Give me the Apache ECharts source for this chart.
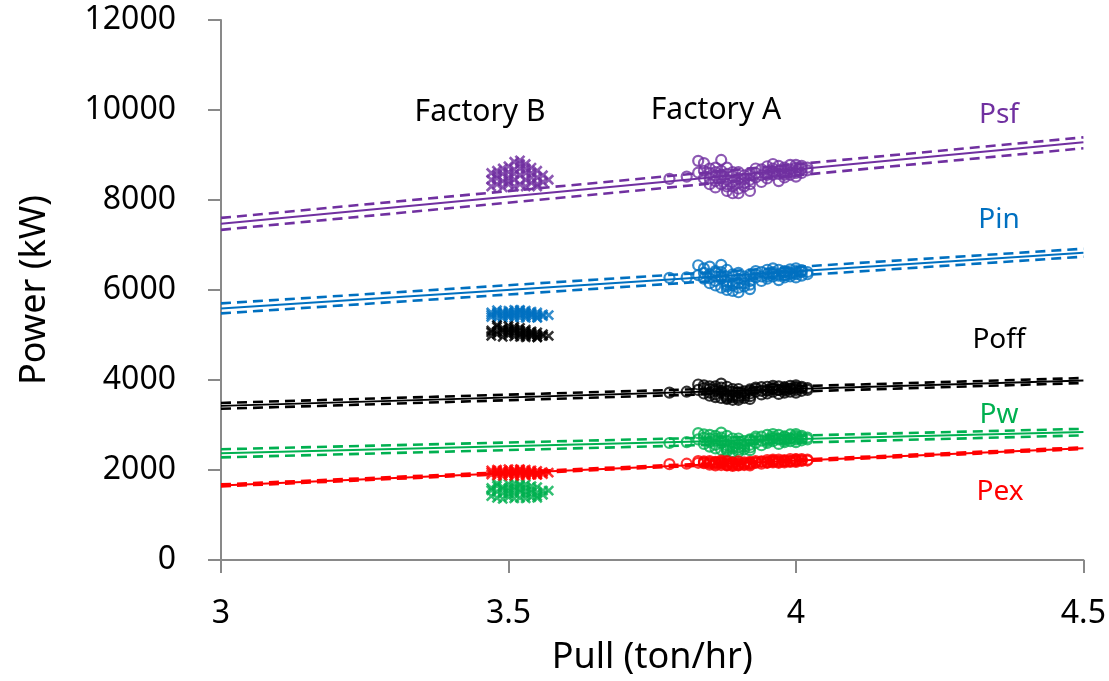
<!DOCTYPE html>
<html>
<head>
<meta charset="utf-8">
<title>Power vs Pull</title>
<script src="https://cdn.jsdelivr.net/npm/echarts@6/dist/echarts.min.js"></script>
<style>
  html, body { margin: 0; padding: 0; background: #fff; }
  #main { width: 1109px; height: 681px; }
</style>
</head>
<body>
<div id="main"></div>
<script>
// pull (ton/hr) of each sample, factory A (circles) and factory B (crosses)
const xA = [3.78, 3.81, 3.83, 3.83, 3.84, 3.84, 3.85, 3.85, 3.85, 3.86, 3.86, 3.86, 3.87, 3.87, 3.87, 3.87, 3.88, 3.88, 3.88, 3.88,
  3.89, 3.89, 3.89, 3.89, 3.90, 3.90, 3.90, 3.91, 3.91, 3.91, 3.92, 3.92, 3.93, 3.93, 3.94, 3.94, 3.95, 3.95, 3.95, 3.96,
  3.96, 3.96, 3.97, 3.97, 3.97, 3.98, 3.98, 3.98, 3.99, 3.99, 3.99, 4.00, 4.00, 4.00, 4.01, 4.01, 4.01, 4.02, 4.02, 3.92,
  3.84, 3.85, 3.86, 3.87, 3.88, 3.89, 3.90, 3.91, 3.92, 3.93, 3.94, 3.95, 3.96, 3.97, 3.98, 3.99, 4.00, 3.86, 3.88, 3.90,
  3.92, 3.96, 3.98, 4.00]
const xB = [3.47, 3.47, 3.48, 3.48, 3.48, 3.49, 3.49, 3.49, 3.50, 3.50, 3.50, 3.50, 3.51, 3.51, 3.51, 3.51, 3.52, 3.52, 3.52, 3.52,
  3.53, 3.53, 3.53, 3.53, 3.54, 3.54, 3.54, 3.55, 3.55, 3.55, 3.56, 3.56, 3.57, 3.48, 3.50, 3.52, 3.54, 3.49, 3.51, 3.53,
  3.47, 3.55]

// power (kW), factory A
const psfA = [8470, 8520, 8610, 8870, 8480, 8820, 8350, 8600, 8700, 8420, 8550, 8280, 8890, 8500, 8350, 8650, 8200, 8450, 8580, 8720,
  8150, 8400, 8530, 8300, 8250, 8480, 8620, 8380, 8550, 8300, 8450, 8600, 8500, 8700, 8550, 8400, 8620, 8750, 8480, 8700,
  8560, 8800, 8650, 8420, 8760, 8600, 8720, 8500, 8680, 8780, 8560, 8640, 8720, 8520, 8700, 8600, 8760, 8660, 8720, 8200,
  8650, 8480, 8720, 8560, 8350, 8620, 8380, 8470, 8350, 8600, 8680, 8560, 8640, 8580, 8650, 8620, 8780, 8620, 8300, 8150,
  8550, 8620, 8560, 8600]
const pinA = [6270, 6280, 6330, 6550, 6250, 6480, 6150, 6350, 6520, 6200, 6300, 6100, 6560, 6250, 6050, 6400, 6000, 6180, 6300, 6450,
  5980, 6150, 6300, 6100, 6050, 6250, 6380, 6150, 6300, 6080, 6200, 6350, 6280, 6420, 6300, 6200, 6350, 6450, 6250, 6400,
  6300, 6480, 6350, 6220, 6450, 6330, 6420, 6280, 6380, 6460, 6300, 6350, 6420, 6280, 6400, 6320, 6440, 6350, 6400, 6020,
  6380, 6260, 6420, 6300, 6120, 6350, 6150, 6240, 6120, 6350, 6400, 6300, 6360, 6320, 6400, 6350, 6480, 6380, 6080, 5950,
  6300, 6360, 6330, 6380]
const poffA = [3720, 3740, 3780, 3900, 3700, 3880, 3650, 3800, 3860, 3680, 3760, 3620, 3920, 3720, 3600, 3830, 3580, 3680, 3760, 3850,
  3560, 3660, 3740, 3620, 3600, 3720, 3800, 3650, 3750, 3600, 3700, 3790, 3740, 3830, 3760, 3680, 3780, 3850, 3700, 3820,
  3740, 3870, 3780, 3690, 3860, 3770, 3840, 3720, 3800, 3870, 3740, 3780, 3840, 3720, 3820, 3760, 3850, 3780, 3820, 3580,
  3820, 3720, 3860, 3760, 3640, 3800, 3640, 3700, 3640, 3800, 3840, 3760, 3800, 3780, 3820, 3810, 3880, 3800, 3600, 3560,
  3760, 3800, 3790, 3820]
const pwA = [2600, 2620, 2680, 2820, 2580, 2790, 2520, 2700, 2780, 2560, 2650, 2480, 2830, 2600, 2450, 2720, 2420, 2550, 2650, 2760,
  2400, 2520, 2620, 2480, 2450, 2580, 2700, 2520, 2640, 2460, 2560, 2680, 2600, 2740, 2650, 2550, 2680, 2780, 2600, 2740,
  2640, 2800, 2700, 2580, 2780, 2660, 2750, 2620, 2700, 2790, 2640, 2680, 2760, 2620, 2720, 2660, 2760, 2680, 2720, 2440,
  2720, 2620, 2760, 2660, 2500, 2700, 2500, 2580, 2500, 2700, 2740, 2640, 2700, 2680, 2730, 2700, 2800, 2700, 2460, 2400,
  2660, 2700, 2690, 2720]
const pexA = [2130, 2140, 2160, 2200, 2150, 2190, 2120, 2170, 2200, 2130, 2160, 2100, 2210, 2150, 2110, 2180, 2100, 2140, 2170, 2200,
  2090, 2130, 2160, 2110, 2110, 2150, 2190, 2130, 2170, 2110, 2140, 2180, 2160, 2200, 2180, 2140, 2180, 2220, 2160, 2210,
  2170, 2230, 2200, 2160, 2230, 2190, 2220, 2170, 2200, 2240, 2180, 2200, 2240, 2180, 2220, 2200, 2240, 2210, 2230, 2100,
  2170, 2150, 2180, 2160, 2120, 2170, 2130, 2150, 2130, 2170, 2190, 2170, 2190, 2180, 2200, 2200, 2230, 2170, 2110, 2100,
  2160, 2190, 2200, 2210]

// power (kW), factory B
const psfB = [8450, 8300, 8550, 8350, 8650, 8420, 8700, 8280, 8500, 8750, 8350, 8620, 8850, 8450, 8300, 8680, 8800, 8550, 8350, 8880,
  8700, 8450, 8300, 8800, 8600, 8380, 8720, 8500, 8650, 8350, 8550, 8400, 8450, 8480, 8420, 8700, 8500, 8580, 8580, 8600,
  8600, 8300]
const pinB = [5450, 5400, 5500, 5380, 5550, 5420, 5520, 5380, 5460, 5540, 5400, 5500, 5560, 5430, 5380, 5500, 5540, 5450, 5390, 5560,
  5500, 5420, 5380, 5540, 5480, 5400, 5520, 5450, 5500, 5390, 5460, 5420, 5440, 5470, 5430, 5500, 5450, 5480, 5470, 5480,
  5500, 5380]
const poffB = [5100, 4980, 5180, 5020, 5220, 5060, 5150, 4960, 5100, 5200, 5000, 5120, 5180, 5050, 4970, 5130, 5160, 5040, 4960, 5100,
  5080, 4990, 4950, 5120, 5050, 4970, 5080, 5000, 5060, 4950, 5020, 4980, 4980, 5080, 5050, 5010, 5000, 5110, 5090, 5030,
  5060, 4950]
const pwB = [1550, 1420, 1650, 1380, 1700, 1480, 1620, 1360, 1540, 1690, 1400, 1600, 1700, 1470, 1370, 1620, 1680, 1520, 1380, 1650,
  1600, 1450, 1370, 1680, 1560, 1400, 1640, 1500, 1620, 1380, 1540, 1450, 1540, 1520, 1480, 1560, 1500, 1580, 1560, 1520,
  1600, 1420]
const pexB = [1950, 1900, 1980, 1880, 2010, 1920, 1990, 1870, 1950, 2020, 1890, 1970, 2010, 1920, 1870, 1980, 2000, 1930, 1880, 2020,
  1970, 1900, 1880, 2010, 1950, 1890, 1990, 1930, 1980, 1890, 1950, 1910, 1940, 1940, 1920, 1960, 1920, 1960, 1950, 1940,
  1990, 1900]

// regression lines (fit, upper and lower bound) at the two ends of the x axis
const fitX = [3, 4.5]
const psfFit = [7470, 9282]
const psfUpper = [7602, 9392]
const psfLower = [7337, 9149]
const pinFit = [5591, 6829]
const pinUpper = [5702, 6917]
const pinLower = [5480, 6740]
const poffFit = [3425, 3990]
const poffUpper = [3490, 4044]
const poffLower = [3360, 3934]
const pwFit = [2370, 2845]
const pwUpper = [2460, 2915]
const pwLower = [2280, 2770]
const pexFit = [1657, 2485]
const pexUpper = [1680, 2505]
const pexLower = [1635, 2465]

const xTicks = [3, 3.5, 4, 4.5]
const yTicks = [0, 2000, 4000, 6000, 8000, 10000, 12000]

const colors = {
  Psf: '#7030A0',
  Pin: '#0070C0',
  Poff: '#000000',
  Pw: '#00B050',
  Pex: '#FF0000'
}

const FONT = 'Noto Sans'
const CROSS = 'path://M0 0L10 10M10 0L0 10'

function pairs(xs, ys) {
  return xs.map((x, i) => [x, ys[i]])
}

function scatter(name, xs, ys, isCross) {
  return {
    name: name,
    type: 'scatter',
    symbol: isCross ? CROSS : 'circle',
    symbolSize: isCross ? 9 : 10,
    itemStyle: {
      color: 'rgba(0,0,0,0)',
      borderColor: colors[name],
      borderWidth: isCross ? 2.6 : 2.2
    },
    z: 2,
    data: pairs(xs, ys)
  }
}

function fitLine(name, ys, dashed) {
  return {
    name: name,
    type: 'line',
    symbol: 'none',
    lineStyle: {
      color: colors[name],
      width: dashed ? 2.6 : 2,
      type: dashed ? [10, 6] : 'solid'
    },
    z: 3,
    data: pairs(fitX, ys)
  }
}

const series = [
  scatter('Psf', xA, psfA, false), scatter('Psf', xB, psfB, true),
  scatter('Pin', xA, pinA, false), scatter('Pin', xB, pinB, true),
  scatter('Poff', xA, poffA, false), scatter('Poff', xB, poffB, true),
  scatter('Pw', xA, pwA, false), scatter('Pw', xB, pwB, true),
  scatter('Pex', xA, pexA, false), scatter('Pex', xB, pexB, true),
  fitLine('Psf', psfFit, false), fitLine('Psf', psfUpper, true), fitLine('Psf', psfLower, true),
  fitLine('Pin', pinFit, false), fitLine('Pin', pinUpper, true), fitLine('Pin', pinLower, true),
  fitLine('Poff', poffFit, false), fitLine('Poff', poffUpper, true), fitLine('Poff', poffLower, true),
  fitLine('Pw', pwFit, false), fitLine('Pw', pwUpper, true), fitLine('Pw', pwLower, true),
  fitLine('Pex', pexFit, false), fitLine('Pex', pexUpper, true), fitLine('Pex', pexLower, true)
]

function label(text, x, y, color, size) {
  return {
    type: 'text',
    x: x,
    y: y,
    z: 10,
    style: {
      text: text,
      fill: color,
      fontSize: size,
      fontFamily: FONT,
      align: 'center',
      verticalAlign: 'middle'
    }
  }
}

const myChart = echarts.init(document.getElementById('main'))
const axisColor = '#898989'
const option = {
  animation: false,
  textStyle: { fontFamily: FONT },
  grid: { left: 221, right: 24, top: 20, bottom: 118 },
  xAxis: {
    type: 'value',
    min: xTicks[0],
    max: xTicks[xTicks.length - 1],
    interval: xTicks[1] - xTicks[0],
    name: 'Pull (ton/hr)',
    nameLocation: 'middle',
    nameGap: 80,
    nameTextStyle: { fontSize: 36, color: '#000', fontFamily: FONT },
    axisLine: { show: true, onZero: false, lineStyle: { color: axisColor, width: 2 } },
    axisTick: { show: true, length: 13, lineStyle: { color: axisColor, width: 2 } },
    axisLabel: { fontSize: 32, color: '#000', margin: 38, fontFamily: FONT },
    splitLine: { show: false }
  },
  yAxis: {
    type: 'value',
    min: yTicks[0],
    max: yTicks[yTicks.length - 1],
    interval: yTicks[1] - yTicks[0],
    name: 'Power (kW)',
    nameLocation: 'middle',
    nameGap: 168,
    nameTextStyle: { fontSize: 36, color: '#000', fontFamily: FONT },
    axisLine: { show: true, lineStyle: { color: axisColor, width: 2 } },
    axisTick: { show: true, length: 13, lineStyle: { color: axisColor, width: 2 } },
    axisLabel: {
      fontSize: 32,
      color: '#000',
      margin: 45,
      fontFamily: FONT,
      formatter: function(v) { return String(v) }
    },
    splitLine: { show: false }
  },
  graphic: [
    label('Factory B', 480, 112, '#000', 30),
    label('Factory A', 716, 110, '#000', 30),
    label('Psf', 999, 115, colors.Psf, 28),
    label('Pin', 999, 220, colors.Pin, 28),
    label('Poff', 999, 340, colors.Poff, 28),
    label('Pw', 999, 415, colors.Pw, 28),
    label('Pex', 1000, 492, colors.Pex, 28)
  ],
  series: series
}
myChart.setOption(option)
</script>
</body>
</html>
